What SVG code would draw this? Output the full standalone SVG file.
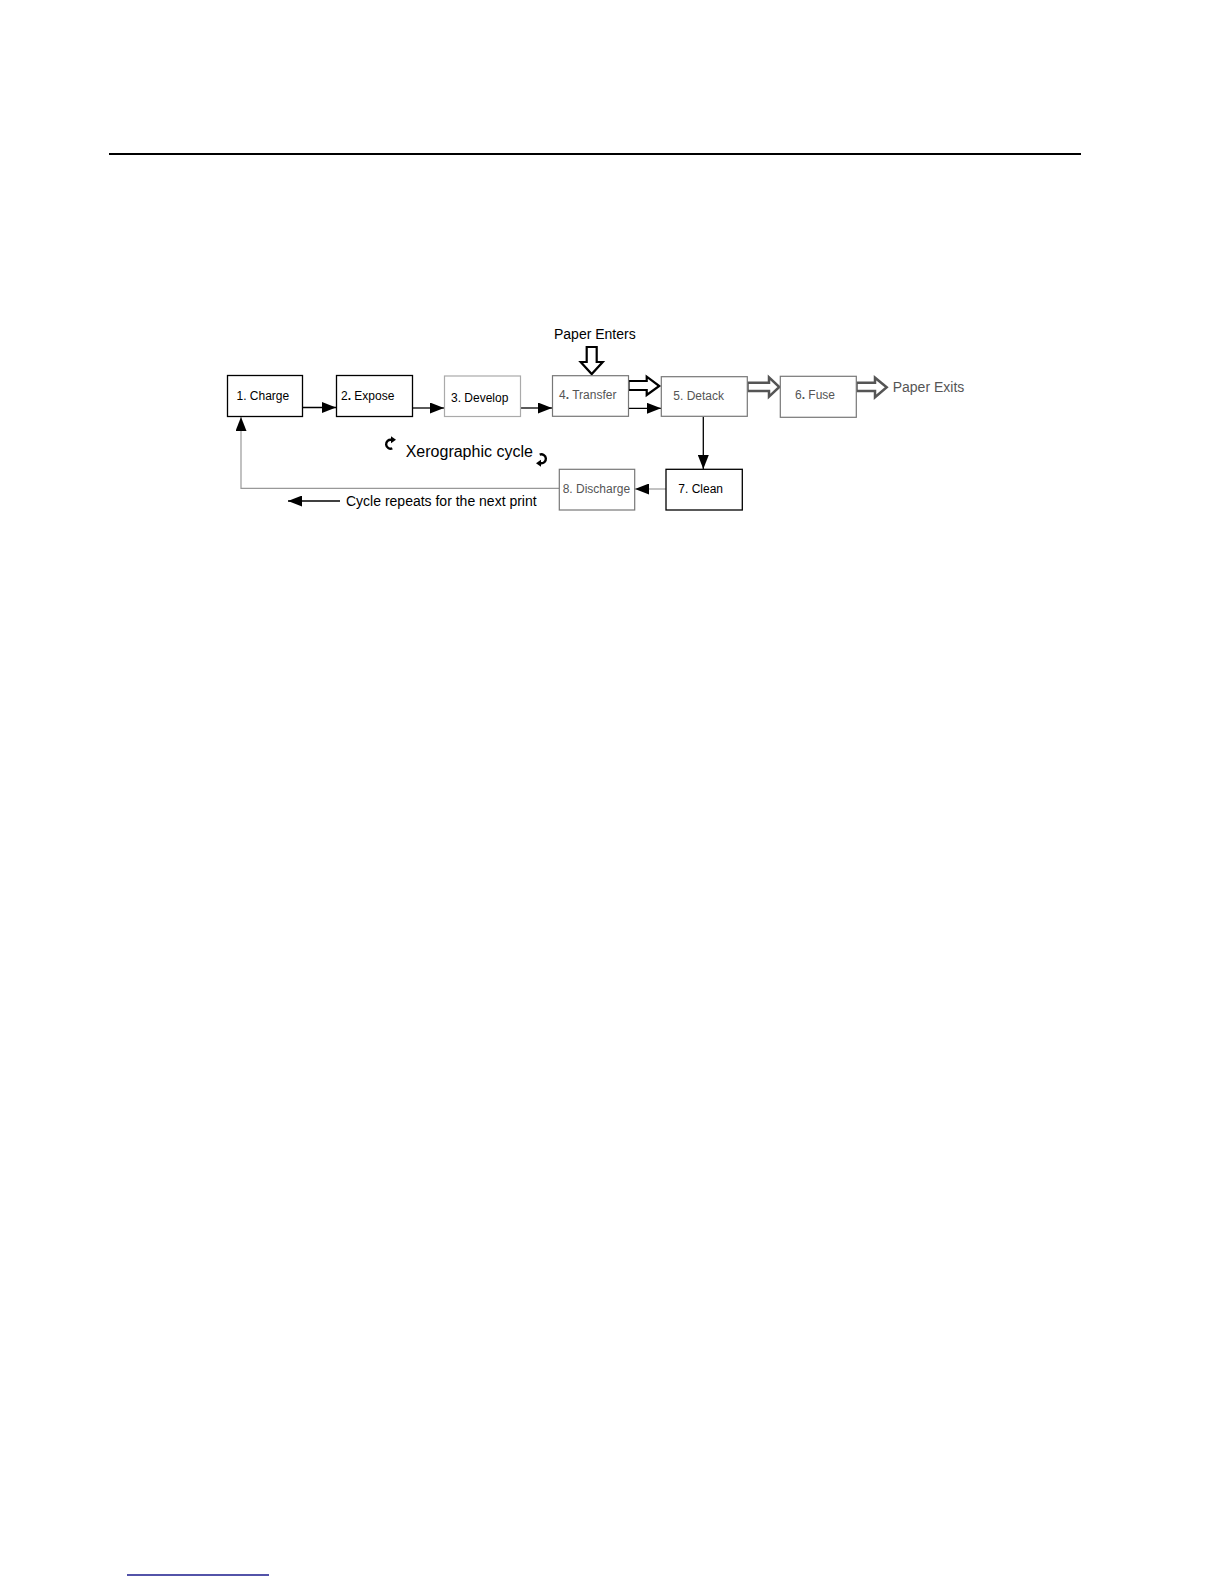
<svg xmlns="http://www.w3.org/2000/svg" width="1224" height="1584" viewBox="0 0 1224 1584">
<style>
text{font-family:"Liberation Sans",Arial,sans-serif}
.lbl{font-size:12px;fill:#000}
.glbl{font-size:12px;fill:#555}
.big{font-size:14px;fill:#000}
.box{fill:#fff;stroke:#000;stroke-width:1.3}
.gbox{fill:#fff;stroke:#777;stroke-width:1.2}
.lbox{fill:#fff;stroke:#aaa;stroke-width:1.2}
.ln{fill:none;stroke:#000;stroke-width:1.3}
.gln{fill:none;stroke:#999;stroke-width:1.2}
.hol{fill:#fff;stroke:#000;stroke-width:2.2;stroke-linejoin:miter}
.ghol{fill:#fff;stroke:#555;stroke-width:2.5;stroke-linejoin:miter}
.cyc{fill:none;stroke:#000;stroke-width:2.4}
</style>
<defs>
<marker id="ah" markerUnits="userSpaceOnUse" markerWidth="14" markerHeight="11" refX="14" refY="5.5" orient="auto">
<path d="M0,0 L14,5.5 L0,11 Z" fill="#000"/>
</marker>
</defs>
<rect width="1224" height="1584" fill="#fff"/>
<line x1="109" y1="154" x2="1081" y2="154" stroke="#000" stroke-width="2"/>
<line x1="127" y1="1575" x2="269" y2="1575" stroke="#1a1a8c" stroke-width="1.5"/>

<g id="connectors">
<line class="ln" x1="302" y1="407.5" x2="336" y2="407.5" marker-end="url(#ah)"/>
<line class="ln" x1="412" y1="408" x2="444" y2="408" marker-end="url(#ah)"/>
<line class="ln" x1="521" y1="408" x2="552" y2="408" marker-end="url(#ah)"/>
<line class="ln" x1="628" y1="408.3" x2="661" y2="408.3" marker-end="url(#ah)"/>
<line class="ln" x1="703.3" y1="416.5" x2="703.3" y2="469" marker-end="url(#ah)"/>
<line class="gln" x1="666" y1="489" x2="635" y2="489" marker-end="url(#ah)"/>
<polyline class="gln" points="559,488.3 241,488.3 241,417" marker-end="url(#ah)"/>
<line class="ln" x1="340" y1="501" x2="288" y2="501" marker-end="url(#ah)"/>
<path class="hol" d="M586.7,347 L596.7,347 L596.7,362 L602.7,362 L591.7,374 L580.7,362 L586.7,362 Z"/>
<path class="hol" d="M628.5,381 L646.7,381 L646.7,376.7 L659.3,386 L646.7,395 L646.7,390 L628.5,390 Z"/>
<path class="ghol" d="M747.5,382.7 L769,382.7 L769,377.3 L779.3,387 L769,396.7 L769,391 L747.5,391 Z"/>
<path class="ghol" d="M856.5,382.7 L875,382.7 L875,377.7 L886.7,387.3 L875,397.3 L875,391 L856.5,391 Z"/>
</g>

<g id="n1"><rect class="box" x="227.5" y="375.5" width="75" height="41"/><text class="lbl" x="236.5" y="400">1. Charge</text></g>
<g id="n2"><rect class="box" x="336.5" y="375.5" width="76" height="41"/><text class="lbl" x="341" y="400">2<tspan font-weight="bold">.</tspan> Expose</text></g>
<g id="n3"><rect class="lbox" x="444.5" y="376" width="76" height="40.5"/><text class="lbl" x="451" y="401.5">3. Develop</text></g>
<g id="n4"><rect class="gbox" x="552.5" y="375.7" width="76" height="40.6"/><text class="glbl" x="559" y="398.5">4<tspan font-weight="bold">.</tspan> Transfer</text></g>
<g id="n5"><rect class="gbox" x="661.3" y="376.7" width="86" height="39.6"/><text class="glbl" x="673.3" y="400">5. Detack</text></g>
<g id="n6"><rect class="gbox" x="780.3" y="376.3" width="76" height="41"/><text class="glbl" x="795" y="398.5">6<tspan font-weight="bold">.</tspan> Fuse</text></g>
<g id="n7"><rect class="box" x="666" y="469.3" width="76.3" height="40.7"/><text class="lbl" x="678.3" y="493.3">7. Clean</text></g>
<g id="n8"><rect class="gbox" x="559.3" y="469.3" width="75.4" height="40.7"/><text class="glbl" x="562.7" y="492.7">8. Discharge</text></g>

<g id="labels">
<text class="big" x="554" y="339.3">Paper Enters</text>
<text class="big" x="892.7" y="391.7" style="fill:#555">Paper Exits</text>
<text x="405.7" y="456.7" font-size="16" fill="#000">Xerographic cycle</text>
<text class="big" x="346" y="505.5">Cycle repeats for the next print</text>
<path class="cyc" d="M392.3,448.4 A4.5,4.5 0 1 1 391.5,439.8"/>
<path d="M391,436.3 L396,439.8 L391,443.3 Z" fill="#000"/>
<path class="cyc" d="M539.7,454.6 A4.5,4.5 0 1 1 540.5,463.2"/>
<path d="M541,459.7 L536,463.2 L541,466.7 Z" fill="#000"/>
</g>
</svg>
